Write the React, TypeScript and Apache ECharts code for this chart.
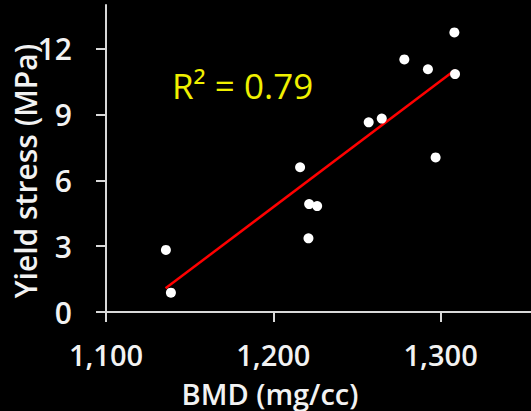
import React, { useEffect, useRef } from "react";
import * as echarts from "echarts";

const bmd = [1135.8, 1138.8, 1216.0, 1221.4, 1226.2, 1221.0, 1257.0, 1264.8, 1278.3, 1292.4, 1308.2, 1308.6, 1297.0];
const yieldStress = [2.83, 0.88, 6.6, 4.92, 4.83, 3.36, 8.65, 8.82, 11.52, 11.07, 12.75, 10.85, 7.05];
const fitX = [1135.6, 1308.4];
const fitY = [1.08, 11.03];
const xTicks = [1100, 1200, 1300];
const yTicks = [0, 3, 6, 9, 12];
const xTitle = "BMD (mg/cc)";
const yTitle = "Yield stress (MPa)";
const r2Label = "R\u00B2 = 0.79";

export default function App() {
  const ref = useRef<HTMLDivElement>(null);
  useEffect(() => {
    if (!ref.current) return;
    const chart = echarts.init(ref.current, null, { renderer: "svg" });
    const font = "'Open Sans', Lato, sans-serif";
    chart.setOption({
      animation: false,
      backgroundColor: "#000000",
      grid: { left: 106, top: 5, width: 425, height: 307 },
      xAxis: {
        type: "value",
        min: 1100,
        max: 1354,
        splitLine: { show: false },
        axisLine: { show: true, lineStyle: { color: "#d9d9d9", width: 2 } },
        axisTick: { show: true, length: 10, customValues: xTicks, lineStyle: { color: "#d9d9d9", width: 2 } },
        axisLabel: {
          customValues: xTicks,
          margin: 28,
          color: "#f2f2f2",
          fontFamily: font,
          fontWeight: 600,
          fontSize: 29,
          lineHeight: 29,
          formatter: (v: number) => v.toLocaleString("en-US"),
        },
      },
      yAxis: {
        type: "value",
        min: 0,
        max: 14,
        splitLine: { show: false },
        axisLine: { show: true, lineStyle: { color: "#d9d9d9", width: 2 } },
        axisTick: { show: true, length: 10, customValues: yTicks, lineStyle: { color: "#d9d9d9", width: 2 } },
        axisLabel: {
          customValues: yTicks,
          margin: 34,
          color: "#f2f2f2",
          fontFamily: font,
          fontWeight: 600,
          fontSize: 30,
          lineHeight: 30,
        },
      },
      graphic: [
        {
          type: "text",
          x: 270,
          y: 393,
          style: {
            text: xTitle,
            fill: "#f2f2f2",
            font: `600 29px ${font}`,
            lineHeight: 29,
            textAlign: "center",
            textVerticalAlign: "middle",
          },
        },
        {
          type: "text",
          x: 25,
          y: 171,
          rotation: Math.PI / 2,
          style: {
            text: yTitle,
            fill: "#f2f2f2",
            font: `600 30px ${font}`,
            lineHeight: 30,
            textAlign: "center",
            textVerticalAlign: "middle",
          },
        },
        {
          type: "text",
          x: 172,
          y: 85,
          style: {
            text: r2Label,
            fill: "#f0f000",
            font: `35px ${font}`,
            textAlign: "left",
            textVerticalAlign: "middle",
          },
        },
      ],
      series: [
        {
          type: "line",
          data: fitX.map((x, i) => [x, fitY[i]]),
          showSymbol: false,
          lineStyle: { color: "#ff0000", width: 2.5 },
          z: 2,
        },
        {
          type: "scatter",
          data: bmd.map((x, i) => [x, yieldStress[i]]),
          symbolSize: 10,
          itemStyle: { color: "#ffffff", opacity: 1 },
          z: 3,
        },
      ],
    });
    return () => chart.dispose();
  }, []);
  return (
    <div
      ref={ref}
      style={{ position: "fixed", left: 0, top: 0, width: 531, height: 411, background: "#000" }}
    />
  );
}
